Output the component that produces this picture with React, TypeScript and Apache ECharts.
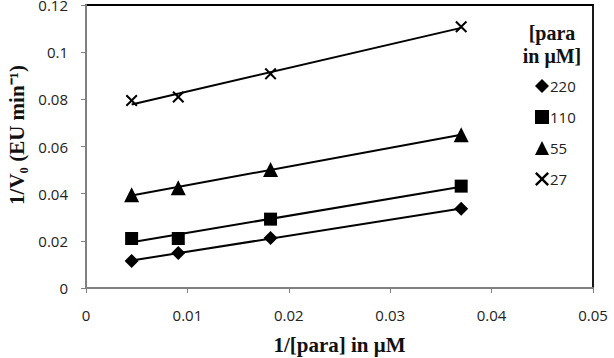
import React, { useEffect, useRef } from "react";
import * as echarts from "echarts";

const xVals = [0.0045, 0.0091, 0.0182, 0.037];
const s220 = [0.0115, 0.0148, 0.0212, 0.0336];
const s110 = [0.021, 0.021, 0.0292, 0.0432];
const s55 = [0.0395, 0.0425, 0.0502, 0.065];
const s27 = [0.0795, 0.081, 0.0908, 0.1108];
const seriesNames = ["220", "110", "55", "27"];
const xTicks = [0, 0.01, 0.02, 0.03, 0.04, 0.05];
const yTicks = [0, 0.02, 0.04, 0.06, 0.08, 0.1, 0.12];

const crossPath =
  "path://M1.2,0 L5,3.8 L8.8,0 L10,1.2 L6.2,5 L10,8.8 L8.8,10 L5,6.2 L1.2,10 L0,8.8 L3.8,5 L0,1.2 Z";
const symbols = ["diamond", "rect", "triangle", crossPath];
const symbolSizes = [14, 13, 15, 12];

function fit(xs: number[], ys: number[]) {
  const n = xs.length;
  const mx = xs.reduce((a, b) => a + b, 0) / n;
  const my = ys.reduce((a, b) => a + b, 0) / n;
  let num = 0;
  let den = 0;
  for (let i = 0; i < n; i++) {
    num += (xs[i] - mx) * (ys[i] - my);
    den += (xs[i] - mx) * (xs[i] - mx);
  }
  const b = num / den;
  const a = my - b * mx;
  const x0 = Math.min(...xs);
  const x1 = Math.max(...xs);
  return [
    [x0, a + b * x0],
    [x1, a + b * x1],
  ];
}

const fmt = (v: number) => String(parseFloat(v.toFixed(2)));

export default function App() {
  const ref = useRef<HTMLDivElement>(null);
  useEffect(() => {
    if (!ref.current) return;
    const chart = echarts.init(ref.current, null, { renderer: "svg" });
    const all = [s220, s110, s55, s27];
    const series: any[] = [];
    all.forEach((ys) => {
      series.push({
        type: "line",
        data: fit(xVals, ys),
        showSymbol: false,
        symbol: "none",
        lineStyle: { color: "#000", width: 2 },
        silent: true,
        z: 2,
      });
    });
    all.forEach((ys, i) => {
      series.push({
        name: seriesNames[i],
        type: "scatter",
        data: xVals.map((x, j) => [x, ys[j]]),
        symbol: symbols[i],
        symbolSize: symbolSizes[i],
        itemStyle: { color: "#000", opacity: 1 },
        z: 3,
      });
    });
    const axisLabelStyle = {
      fontFamily: "Open Sans",
      fontSize: 15,
      color: "#222",
    };
    const option: any = {
      animation: false,
      backgroundColor: "#fff",
      grid: {
        left: 86,
        right: 21,
        top: 5,
        bottom: 70,
        outerBoundsMode: "none",
        containLabel: false,
        show: true,
        borderColor: "#000",
        borderWidth: 1.8,
        backgroundColor: "transparent",
      },
      legend: {
        data: seriesNames,
        orient: "vertical",
        left: 530,
        top: 73,
        itemWidth: 14,
        itemHeight: 14,
        itemGap: 15,
        textStyle: {
          fontFamily: "Open Sans",
          fontSize: 15,
          lineHeight: 16,
          color: "#222",
          padding: [0, 0, 0, -4],
        },
      },
      graphic: [
        {
          type: "text",
          x: 552,
          y: 21,
          style: {
            text: "[para\nin μM]",
            font: "bold 20px 'Liberation Serif'",
            fill: "#111",
            align: "center",
            verticalAlign: "top",
            lineHeight: 23,
          },
        },
        {
          type: "text",
          x: 17,
          y: 135,
          rotation: Math.PI / 2,
          style: {
            text: "1/V\u2080 (EU min\u207B\u00B9)",
            font: "bold 21px 'Liberation Serif'",
            fill: "#111",
            align: "center",
            verticalAlign: "middle",
          },
        },
      ],
      xAxis: {
        type: "value",
        min: 0,
        max: 0.05,
        interval: 0.01,
        name: "1/[para] in μM",
        nameLocation: "middle",
        nameGap: 46,
        nameTextStyle: {
          fontFamily: "Liberation Serif",
          fontWeight: "bold",
          fontSize: 21,
          color: "#111",
        },
        axisLine: { show: true, onZero: false, lineStyle: { color: "#808080", width: 2 } },
        axisTick: { show: true, length: 5, lineStyle: { color: "#808080", width: 1 } },
        axisLabel: { ...axisLabelStyle, margin: 19, formatter: fmt },
        splitLine: { show: false },
      },
      yAxis: {
        type: "value",
        min: 0,
        max: 0.12,
        interval: 0.02,
        axisLine: { show: true, onZero: false, lineStyle: { color: "#808080", width: 2 } },
        axisTick: { show: true, length: 5, lineStyle: { color: "#808080", width: 1 } },
        axisLabel: { ...axisLabelStyle, margin: 18, formatter: fmt },
        splitLine: { show: false },
      },
      series,
    };
    chart.setOption(option);
    return () => chart.dispose();
  }, []);
  return <div ref={ref} style={{ width: 614, height: 358, position: "absolute", left: 0, top: 0 }} />;
}
